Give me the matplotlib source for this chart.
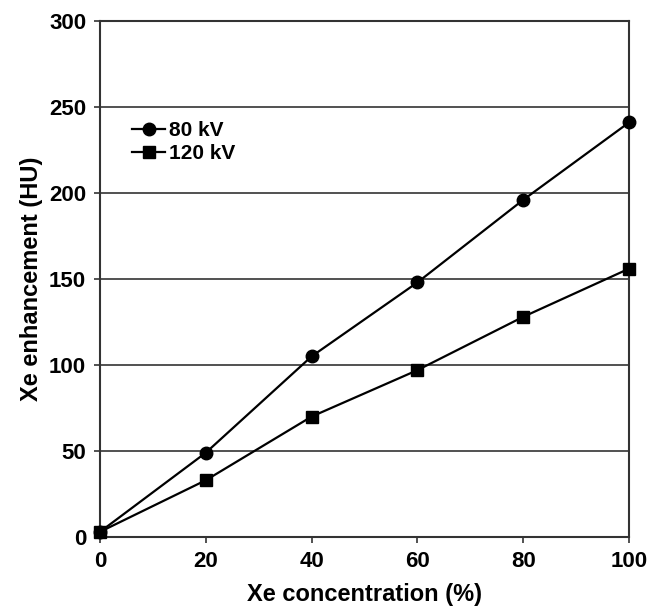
import matplotlib
matplotlib.use("Agg")
import matplotlib.pyplot as plt

plt.rcParams['font.family'] = ['Liberation Sans', 'DejaVu Sans']

x_conc = [0, 20, 40, 60, 80, 100]
hu_80kv = [3, 49, 105, 148, 196, 241]
hu_120kv = [3, 33, 70, 97, 128, 156]
x_ticks = [0, 20, 40, 60, 80, 100]
y_ticks = [0, 50, 100, 150, 200, 250, 300]

fig = plt.figure(figsize=(6.6, 6.09), dpi=100)
ax = fig.add_axes([100/660, 1-537/609, 529/660, 516/609])

ax.plot(x_conc, hu_80kv, color='black', lw=1.6, marker='o', markersize=9, label='80 kV', clip_on=False, zorder=3)
ax.plot(x_conc, hu_120kv, color='black', lw=1.6, marker='s', markersize=9, label='120 kV', clip_on=False, zorder=3)

ax.set_xlim(0, 100)
ax.set_ylim(0, 300)
ax.set_xticks(x_ticks)
ax.set_yticks(y_ticks)
ax.yaxis.grid(True, color='#333333', lw=1.2)
ax.set_axisbelow(True)
for s in ax.spines.values():
    s.set_color('#333333')
    s.set_linewidth(1.5)
ax.tick_params(direction='out', length=4, width=1.2, color='#333333', labelsize=16, pad=6)
for lab in ax.get_xticklabels() + ax.get_yticklabels():
    lab.set_fontweight('bold')

ax.set_xlabel('Xe concentration (%)', fontsize=17, fontweight='bold', labelpad=8)
ax.set_ylabel('Xe enhancement (HU)', fontsize=17, fontweight='bold', labelpad=4)

leg = ax.legend(loc='upper left', bbox_to_anchor=(0.045, 0.822), frameon=False,
                prop={'weight': 'bold', 'size': 15}, handlelength=1.6,
                handletextpad=0.15, labelspacing=0.2, borderaxespad=0)

fig.savefig('out.png', dpi=100)
